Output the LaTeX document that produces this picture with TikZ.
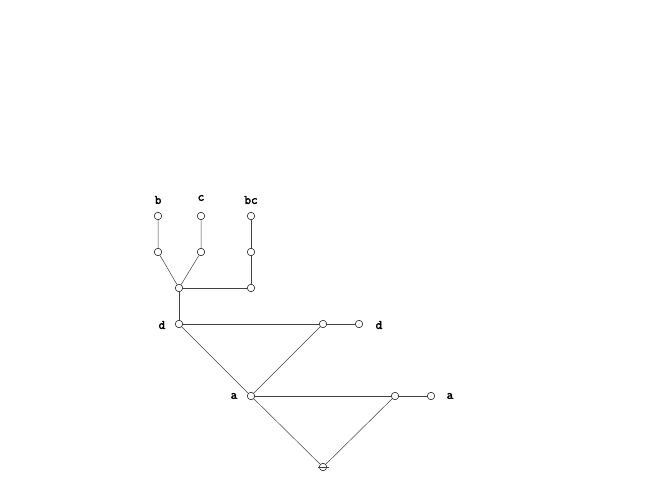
\documentclass[tikz,border=0pt]{standalone}
\usepackage{fontspec}
\newfontfamily\lblfont{Latin Modern Mono}[FakeBold=2.5]
\begin{document}
\begin{tikzpicture}[x=1bp,y=-1bp,
  vtx/.style={circle,draw,fill=white,inner sep=0pt,minimum size=7.5bp,line width=0.5bp},
  lbl/.style={font=\lblfont\fontsize{13}{14}\selectfont,inner sep=0pt},
  edge/.style={line width=0.5bp,draw=black!75}]
\useasboundingbox (0,0) rectangle (648,504);
\coordinate (rl) at (318,467);
\coordinate (rr) at (329,467);
\node[vtx] (bl) at (158,216) {};
\node[vtx] (cl) at (201,216) {};
\node[vtx] (bcl) at (251,216) {};
\node[vtx] (bm) at (158,252) {};
\node[vtx] (cm) at (201,252) {};
\node[vtx] (bcm) at (251,252) {};
\node[vtx] (j) at (179,288) {};
\node[vtx] (bcb) at (251,288) {};
\node[vtx] (d) at (179,324) {};
\node[vtx] (dm) at (323,324) {};
\node[vtx] (dr) at (359,324) {};
\node[vtx] (a) at (251,396) {};
\node[vtx] (am) at (395,396) {};
\node[vtx] (ar) at (431,396) {};
\node[vtx] (r) at (323,467) {};
\node[lbl] (tb) at (158,200) {b};
\node[lbl] (tc) at (201,198) {c};
\node[lbl] (tbc) at (251,200) {bc};
\node[lbl] (td) at (162,325) {d};
\node[lbl] (td2) at (379,325) {d};
\node[lbl] (ta) at (234,396) {a};
\node[lbl] (ta2) at (450,396) {a};
\draw[edge] (bl) -- (bm) -- (j);
\draw[edge] (cl) -- (cm) -- (j);
\draw[edge] (bcl) -- (bcm) -- (bcb);
\draw[edge] (j) -- (bcb);
\draw[edge] (j) -- (d);
\draw[edge] (d) -- (dm) -- (dr);
\draw[edge] (d) -- (a);
\draw[edge] (dm) -- (a);
\draw[edge] (a) -- (am) -- (ar);
\draw[edge] (a) -- (r);
\draw[edge] (am) -- (r);
\draw[edge] (rl) -- (rr);
\end{tikzpicture}
\end{document}
